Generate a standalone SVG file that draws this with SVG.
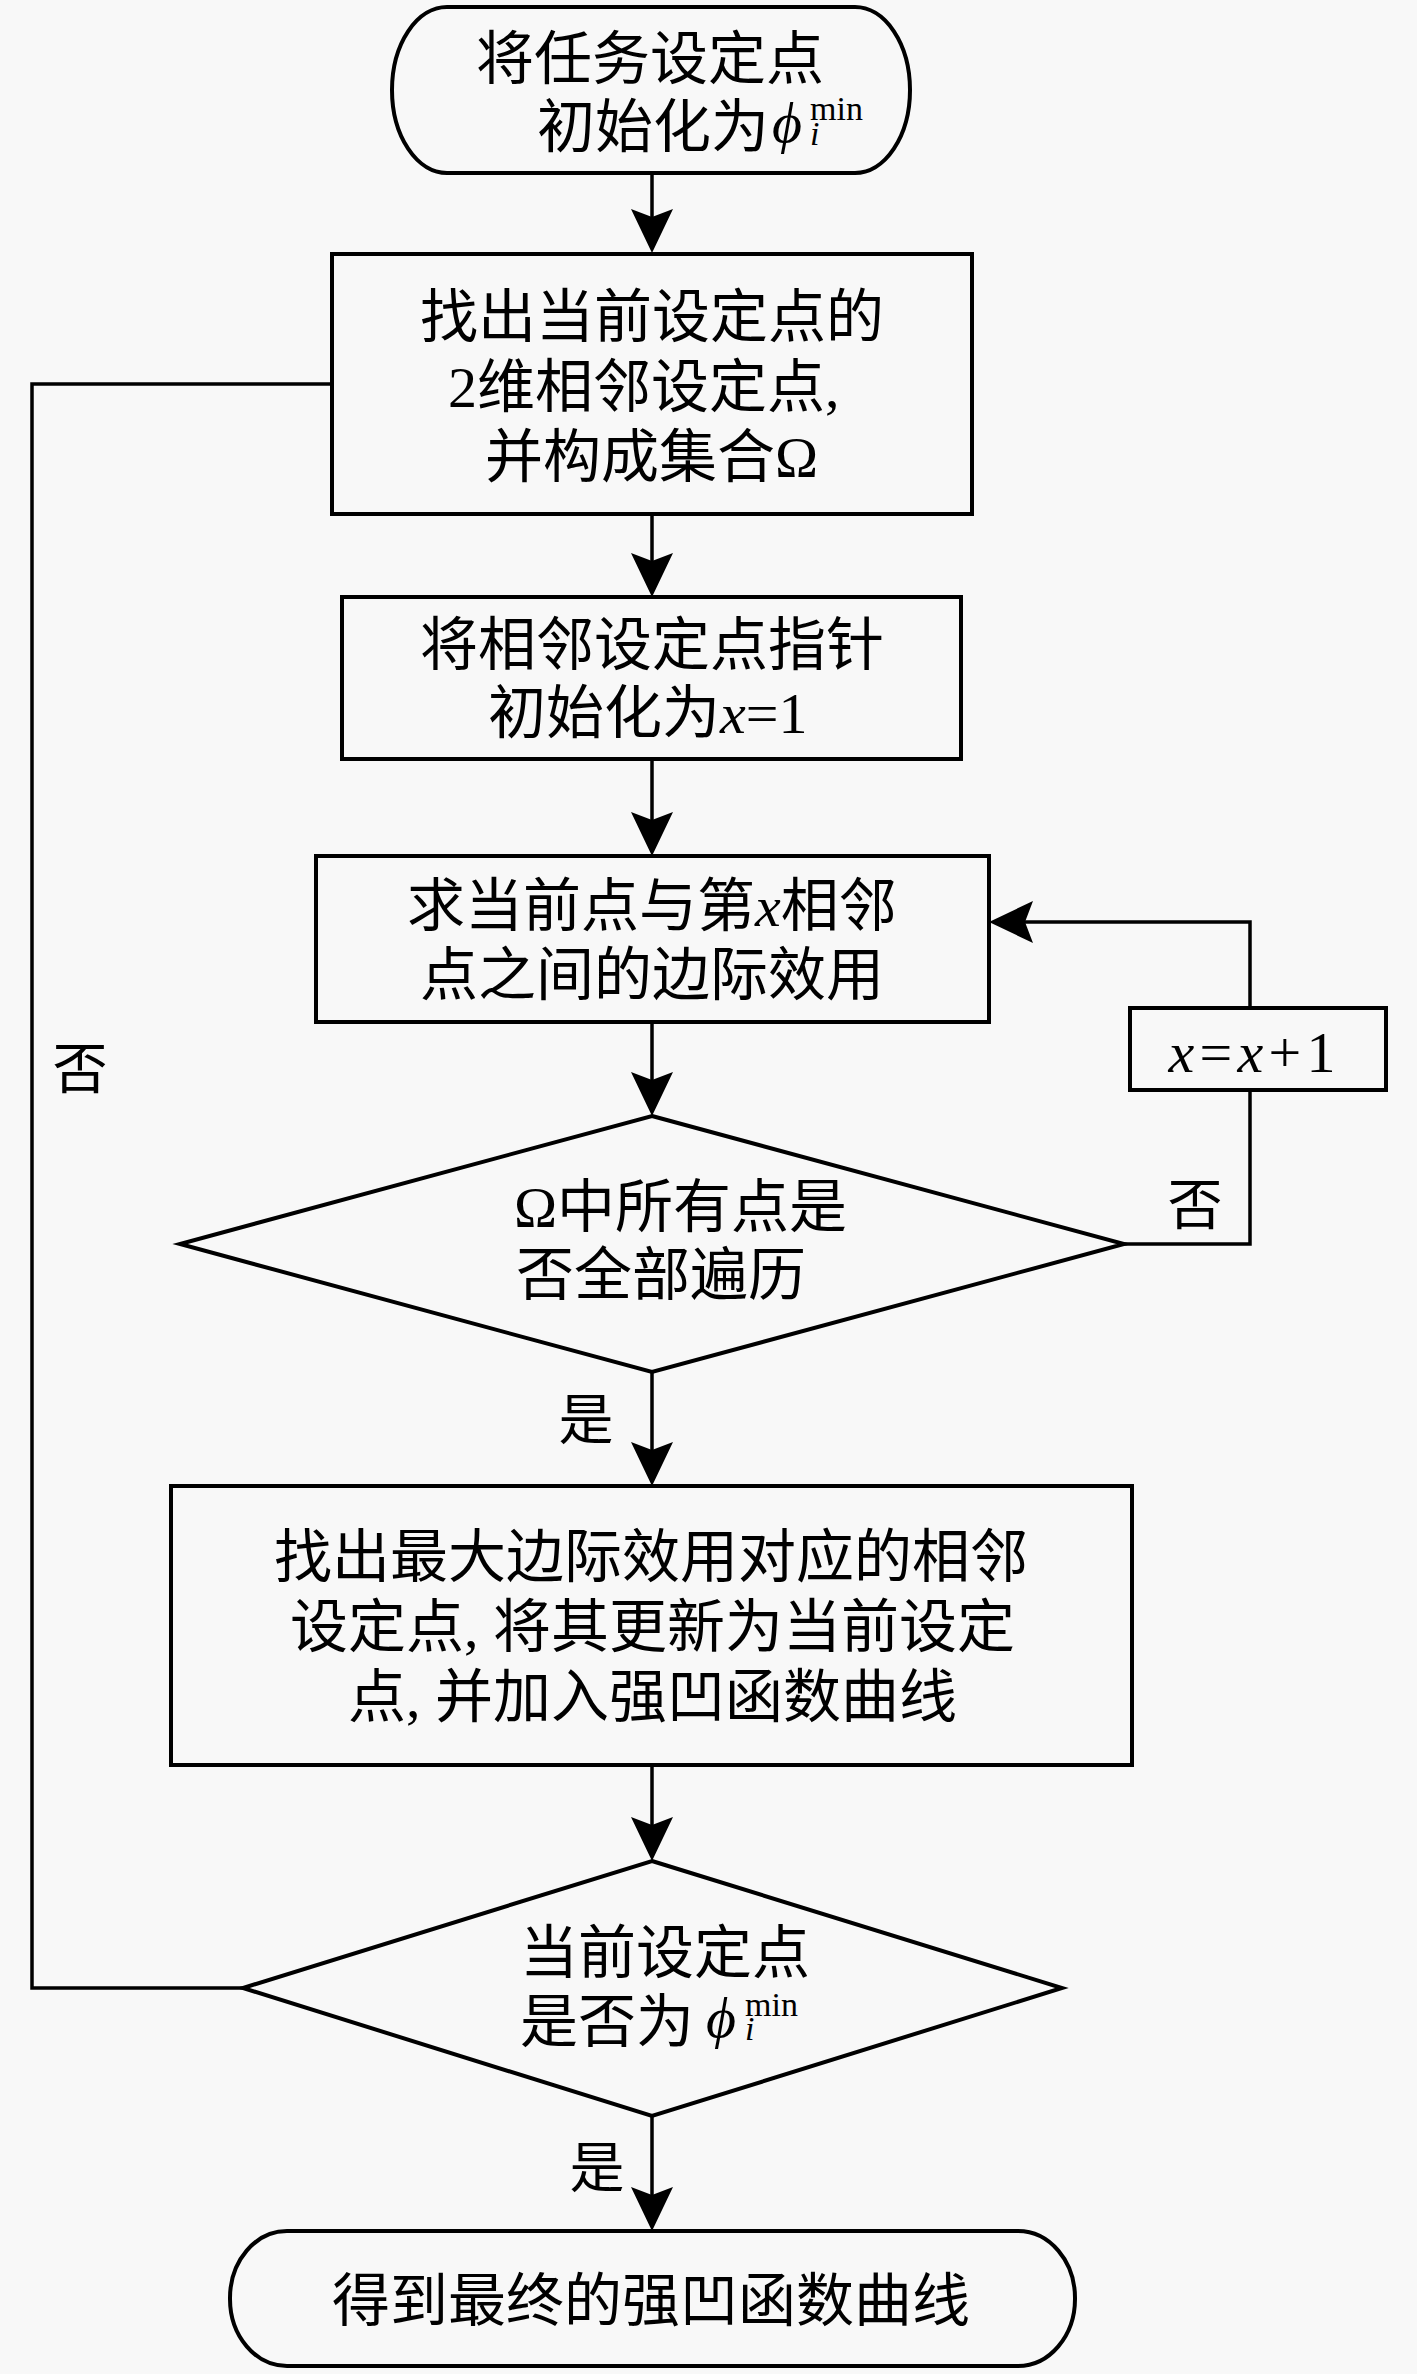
<svg xmlns="http://www.w3.org/2000/svg" width="1417" height="2374" viewBox="0 0 1417 2374">
<defs>
<style>
.shape{fill:#f8f8f8;stroke:#000;stroke-width:4}
.conn{fill:none;stroke:#000;stroke-width:3.5}
.cjk{font-family:"Noto Sans CJK SC","Noto Sans CJK JP",sans-serif;font-size:58px;fill:#000}
.lbl{font-family:"Noto Sans CJK SC","Noto Sans CJK JP",sans-serif;font-size:55px;fill:#000}
.m{font-family:"Liberation Serif","DejaVu Serif",serif}
.mi{font-family:"Liberation Serif","DejaVu Serif",serif;font-style:italic}
.sm{font-family:"Liberation Serif","DejaVu Serif",serif;font-size:34px}
.smi{font-family:"Liberation Serif","DejaVu Serif",serif;font-size:34px;font-style:italic}
</style>
<marker id="ah" viewBox="0 -22 46 44" markerWidth="46" markerHeight="44" refX="36" refY="0" orient="auto" markerUnits="userSpaceOnUse">
<path d="M44,0 L0,-21 L8,0 L0,21 Z" fill="#000"/>
</marker>
</defs>
<rect width="1417" height="2374" fill="#f8f8f8"/>

<g id="connectors">
<line class="conn" x1="652" y1="173" x2="652" y2="245" marker-end="url(#ah)"/>
<line class="conn" x1="652" y1="514" x2="652" y2="589" marker-end="url(#ah)"/>
<line class="conn" x1="652" y1="759" x2="652" y2="848" marker-end="url(#ah)"/>
<line class="conn" x1="652" y1="1022" x2="652" y2="1108" marker-end="url(#ah)"/>
<line class="conn" x1="652" y1="1372" x2="652" y2="1478" marker-end="url(#ah)"/>
<line class="conn" x1="652" y1="1765" x2="652" y2="1853" marker-end="url(#ah)"/>
<line class="conn" x1="652" y1="2116" x2="652" y2="2223" marker-end="url(#ah)"/>
<polyline class="conn" points="1124,1244 1250,1244 1250,1090"/>
<polyline class="conn" points="1250,1008 1250,922 997,922" marker-end="url(#ah)"/>
<polyline class="conn" points="243,1988 32,1988 32,384 332,384"/>
<text class="lbl" x="80" y="1088" text-anchor="middle">否</text>
<text class="lbl" x="1195" y="1224" text-anchor="middle">否</text>
<text class="lbl" x="586" y="1439" text-anchor="middle">是</text>
<text class="lbl" x="597" y="2187" text-anchor="middle">是</text>
</g>

<g id="start">
<rect class="shape" x="392" y="7" width="518" height="166" rx="55" ry="83"/>
<text class="cjk"><tspan x="476" y="79">将任务设定点</tspan><tspan x="537" y="147">初始化为</tspan><tspan class="mi" x="772" y="142">ϕ</tspan><tspan class="sm" x="810" y="120">min</tspan><tspan class="smi" x="810" y="145">i</tspan></text>
</g>

<g id="find-neighbors">
<rect class="shape" x="332" y="254" width="640" height="260"/>
<text class="cjk"><tspan x="420" y="337">找出当前设定点的</tspan><tspan x="448" y="407"><tspan class="m">2</tspan>维相邻设定点<tspan class="m">,</tspan></tspan><tspan x="485" y="477">并构成集合<tspan class="m">Ω</tspan></tspan></text>
</g>

<g id="init-pointer">
<rect class="shape" x="342" y="597" width="619" height="162"/>
<text class="cjk"><tspan x="420" y="665">将相邻设定点指针</tspan><tspan x="488" y="733">初始化为<tspan class="mi">x</tspan><tspan class="m">=1</tspan></tspan></text>
</g>

<g id="marginal-utility">
<rect class="shape" x="316" y="856" width="673" height="166"/>
<text class="cjk"><tspan x="407" y="926">求当前点与第<tspan class="mi">x</tspan>相邻</tspan><tspan x="420" y="995">点之间的边际效用</tspan></text>
</g>

<g id="increment">
<rect class="shape" x="1130" y="1008" width="256" height="82"/>
<text x="1252" y="1072" text-anchor="middle" font-size="58" textLength="167"><tspan class="mi">x</tspan><tspan class="m">=</tspan><tspan class="mi">x</tspan><tspan class="m">+1</tspan></text>
</g>

<g id="all-traversed">
<polygon class="shape" points="652,1116 1124,1244 652,1372 180,1244"/>
<text class="cjk"><tspan x="514" y="1227"><tspan class="m">Ω</tspan>中所有点是</tspan><tspan x="516" y="1295">否全部遍历</tspan></text>
</g>

<g id="update-point">
<rect class="shape" x="171" y="1486" width="961" height="279"/>
<text class="cjk"><tspan x="274" y="1577">找出最大边际效用对应的相邻</tspan><tspan x="290" y="1647">设定点<tspan class="m">, </tspan>将其更新为当前设定</tspan><tspan x="348" y="1717">点<tspan class="m">, </tspan>并加入强凹函数曲线</tspan></text>
</g>

<g id="is-min">
<polygon class="shape" points="652,1861 1062,1988 652,2116 243,1988"/>
<text class="cjk"><tspan x="520" y="1973">当前设定点</tspan><tspan x="520" y="2042">是否为</tspan><tspan class="mi" x="706" y="2037">ϕ</tspan><tspan class="sm" x="745" y="2016">min</tspan><tspan class="smi" x="745" y="2040">i</tspan></text>
</g>

<g id="end">
<rect class="shape" x="230" y="2231" width="845" height="135" rx="57" ry="67"/>
<text class="cjk" x="332" y="2321">得到最终的强凹函数曲线</text>
</g>
</svg>
